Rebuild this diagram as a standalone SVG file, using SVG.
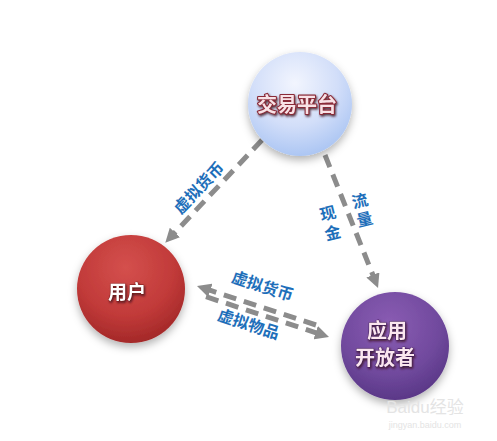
<svg xmlns="http://www.w3.org/2000/svg" width="497" height="441" viewBox="0 0 497 441">
<defs>
<style>
.lbl{font-family:"Noto Sans CJK SC","Noto Sans",sans-serif;font-weight:bold;font-size:16px;fill:#1e6fba;text-anchor:middle;dominant-baseline:central}
.node{font-family:"Noto Sans CJK SC","Noto Sans",sans-serif;font-weight:bold;font-size:20px;text-anchor:middle;dominant-baseline:central;paint-order:stroke;stroke-linejoin:round}
.conn{fill:none;stroke:#8c8c8c;stroke-width:5;stroke-dasharray:13 8}
.wm{font-family:"Liberation Sans","Noto Sans CJK SC",sans-serif;fill:#e4e4e4;text-anchor:middle}
</style>
<marker id="ah" viewBox="0 0 14 14" markerWidth="14" markerHeight="14" markerUnits="userSpaceOnUse" refX="2" refY="7" orient="auto">
<path d="M0,0 L14,7 L0,14 z" fill="#8c8c8c"/>
</marker>
<radialGradient id="gBlue" cx="0.45" cy="0.3" r="0.75">
<stop offset="0" stop-color="#f2f5fe"/>
<stop offset="0.55" stop-color="#d2def9"/>
<stop offset="1" stop-color="#a6c2f2"/>
</radialGradient>
<radialGradient id="gRed" cx="0.45" cy="0.3" r="0.75">
<stop offset="0" stop-color="#d4504d"/>
<stop offset="0.6" stop-color="#c13a39"/>
<stop offset="1" stop-color="#9e2525"/>
</radialGradient>
<radialGradient id="gPur" cx="0.45" cy="0.3" r="0.75">
<stop offset="0" stop-color="#8a5cb3"/>
<stop offset="0.6" stop-color="#714a9e"/>
<stop offset="1" stop-color="#563483"/>
</radialGradient>
<filter id="sh" x="-30%" y="-30%" width="160%" height="170%">
<feDropShadow dx="0" dy="4" stdDeviation="4" flood-color="#000" flood-opacity="0.3"/>
</filter>
<filter id="tsh" x="-20%" y="-40%" width="140%" height="180%">
<feDropShadow dx="1" dy="1.5" stdDeviation="0.8" flood-color="#3a0b12" flood-opacity="0.85"/>
</filter>
</defs>
<rect width="497" height="441" fill="#ffffff"/>

<g id="connectors">
<line class="conn" x1="262" y1="140" x2="173.5" y2="234" marker-end="url(#ah)"/>
<line class="conn" x1="325" y1="155" x2="373.6" y2="276.8" marker-end="url(#ah)"/>
<line class="conn" x1="316" y1="325" x2="208.4" y2="289.7" marker-end="url(#ah)"/>
<line class="conn" x1="206" y1="296.7" x2="317.6" y2="333.3" marker-end="url(#ah)"/>
<text class="lbl" transform="translate(198,187) rotate(-46)">虚拟货币</text>
<g transform="rotate(-14,330,222)">
<text class="lbl" x="330" y="212">现</text>
<text class="lbl" x="330" y="232">金</text>
</g>
<g transform="rotate(-14,362,209)">
<text class="lbl" x="362" y="199.5">流</text>
<text class="lbl" x="362" y="218.5">量</text>
</g>
<text class="lbl" transform="translate(263,285) rotate(18)">虚拟货币</text>
<text class="lbl" transform="translate(249,323) rotate(18)">虚拟物品</text>
</g>

<g id="node-platform">
<circle cx="300" cy="104" r="52" fill="url(#gBlue)" filter="url(#sh)"/>
<text class="node" x="297" y="103" fill="#f8e2e6" stroke="#8a2a38" stroke-width="2.2" filter="url(#tsh)">交易平台</text>
</g>

<g id="node-user">
<circle cx="131" cy="289" r="54" fill="url(#gRed)" filter="url(#sh)"/>
<text class="node" x="127" y="290" font-size="19" fill="#ffffff" stroke="#7a1a1a" stroke-width="0.8" filter="url(#tsh)" style="font-size:19px">用户</text>
</g>

<g id="node-dev">
<circle cx="395" cy="346" r="54" fill="url(#gPur)" filter="url(#sh)"/>
<text class="node" x="387" y="329" fill="#fbe6ef" stroke="#3d1a55" stroke-width="0.8" filter="url(#tsh)">应用</text>
<text class="node" x="385" y="356" fill="#fbe6ef" stroke="#3d1a55" stroke-width="0.8" filter="url(#tsh)">开放者</text>
</g>

<g id="watermark">
<text class="wm" x="425" y="413" font-size="17">Baidu经验</text>
<text class="wm" x="425" y="428" font-size="9">jingyan.baidu.com</text>
</g>
</svg>
